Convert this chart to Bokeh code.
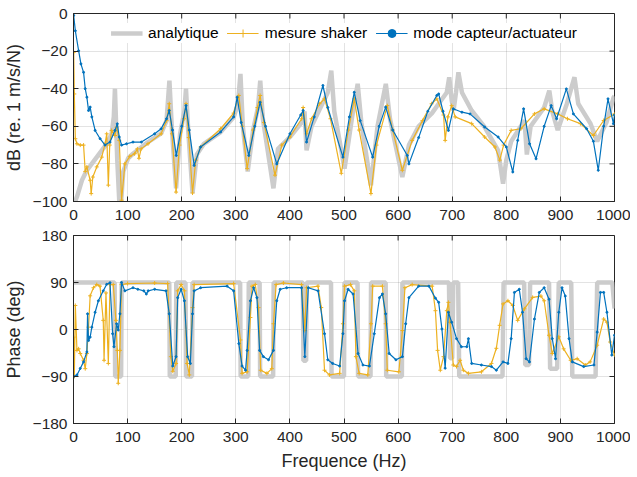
import math
from bokeh.plotting import figure
from bokeh.layouts import column
from bokeh.models import Legend, LegendItem, FixedTicker, Range1d
from bokeh.embed import file_html
from bokeh.resources import INLINE

# ---------------- data ----------------
x_ticks = [0, 100, 200, 300, 400, 500, 600, 700, 800, 900, 1000]
db_ticks = [-100, -80, -60, -40, -20, 0]
ph_ticks = [-180, -90, 0, 90, 180]

series_names = ["analytique", "mesure shaker", "mode capteur/actuateur"]

# magnitude, analytic model
ana_f = [3, 6.4, 15.6, 24.7, 43, 61.4, 70.5, 74.5, 76.6, 80.9, 84.6, 88, 92, 101, 110, 137.7, 162, 172,
         177.3, 182, 189.6, 197, 205, 207.9, 212, 220, 228, 241, 272, 296, 304, 308.6, 313, 322, 332, 341,
         345.2, 350, 369.6, 378, 400, 424.5, 427, 430.8, 440, 455, 470, 476.5, 482, 501, 515, 525.3, 532,
         549.8, 562, 577.3, 585, 607.8, 620, 638, 662.7, 675, 690, 694.5, 699, 702.5, 707, 711.5, 718,
         735.9, 760, 784.8, 794, 800, 809, 833.7, 838, 845, 870, 879.5, 885, 895, 912, 926, 933, 955.7,
         968, 985, 998.5, 1000]
ana_db = [-100, -97.5, -88.7, -83.4, -76.4, -69.3, -64, -55, -40, -78, -100, -100, -84, -77, -74.6, -68.4,
          -63.8, -57, -35.7, -62, -93, -64, -52, -40, -62, -95.5, -75, -69.3, -63.1, -55.2, -48, -32.1, -60,
          -84, -62, -50, -35.7, -56, -93, -72, -65.7, -57, -52, -72.8, -60, -51, -42, -30.4, -52, -82.5, -55,
          -37.4, -58, -91.4, -60, -37.4, -56, -87, -70, -60, -53, -48, -42, -33.9, -46, -51.6, -42, -31.3,
          -42, -51.6, -60.4, -72.8, -90.5, -78, -68, -56.9, -75, -60, -50, -41, -52, -62, -48, -33.9, -48,
          -58.6, -68, -58, -44.5, -44]

# magnitude, shaker measurement
shk_f = [0.4, 1.5, 3.4, 6.4, 12.5, 18.6, 21.7, 24.7, 30.8, 32.7, 35.7, 43, 52.2, 58.3, 61.4, 64.4, 67,
         70.5, 76.6, 79.7, 84.6, 88.9, 95, 104, 113, 118, 121, 125, 137.7, 162, 172, 177, 182, 189.6, 196,
         204, 208, 213, 220, 226, 235, 272, 296, 305.6, 312, 321, 332, 340, 345, 352, 372.5, 385, 400,
         421.7, 424.5, 430.8, 440, 455, 464, 475, 495, 508, 519, 528, 549.8, 560, 580, 590, 607.8, 626,
         645, 662, 671.5, 684, 687, 692, 699, 705.5, 736, 760, 779, 788, 795, 809, 827, 852, 870, 895,
         913, 937, 961, 980, 1000]
shk_db = [-20.7, -42.8, -66.6, -69.3, -70, -70, -84, -81.6, -88.7, -95.8, -87, -81.6, -76.4, -69.3, -64,
          -91.3, -70, -62.2, -64.9, -60.4, -67.5, -99.3, -80, -76, -74.6, -72, -77, -72, -69.3, -64, -57,
          -48, -64, -95, -70, -56, -48, -66, -95.5, -78, -71, -61.3, -53, -43.6, -60, -82.5, -62, -50,
          -43.6, -58, -86, -70, -65.7, -56, -50, -64, -56, -48, -45.4, -56, -85, -62, -45.4, -62, -95.8,
          -70, -49, -62, -83.4, -67.5, -57, -48, -45.4, -54, -67.5, -55, -49, -55, -58.6, -65.7, -71, -78,
          -70, -62.2, -61.3, -53.4, -50.7, -53.4, -56, -58.6, -64.9, -56.9, -53.4]

# magnitude, sensor/actuator mode
cap_f = [0.3, 3.4, 9.5, 13.7, 18.6, 21.7, 24.7, 27.8, 30.8, 33.9, 40, 49.2, 58.3, 67.5, 76.6, 80.9, 84.6,
         88.9, 98, 110, 125.5, 150, 162, 172, 177, 183, 190, 200, 208, 214, 223, 235, 272, 296, 302.5,
         310, 324, 335, 345, 355, 375.7, 400, 420, 424.5, 430.8, 445, 461, 470, 498, 510, 519, 530, 553,
         565, 577, 590, 617, 620, 638, 655, 671.5, 675, 683, 693, 702, 718, 733, 760, 785, 800, 812, 821,
         832, 843, 855, 870, 883, 893, 911, 924, 948.5, 961, 970, 980, 988, 998, 1000]
cap_db = [-1, -9.2, -19.8, -26.8, -31.3, -40, -44.5, -51.6, -49.8, -55, -62.2, -66.6, -70, -68.4, -62.2,
          -58.7, -65.7, -70, -69.3, -68.4, -68.4, -64, -61.3, -56, -51.6, -62, -75.5, -60, -49, -62, -80.8,
          -71, -63, -55, -44.5, -58, -75.5, -60, -47.2, -60, -80, -64, -54, -51.6, -68.4, -55, -38.3, -50,
          -76.4, -55, -41.9, -57, -76.4, -60, -49.8, -62, -75.5, -80, -66, -52, -43.6, -42.8, -52, -62.2,
          -50.7, -52.5, -53.4, -60.4, -65.7, -71, -84.3, -67.5, -50.7, -69.3, -77.3, -60, -49, -56, -40.1,
          -53.4, -61.3, -68, -83.4, -60, -45.4, -58.6, -54]

# phase, analytic model
ana_ph_f = [0, 76, 77, 88, 89, 177, 178, 189, 190, 207, 208, 219, 220, 308, 309, 323, 324, 344, 345, 369,
            370, 424, 425, 430, 431, 476, 477, 500, 501, 525, 526, 549, 550, 577, 578, 607, 608, 694, 696,
            700, 702, 711, 713, 793, 795, 833, 835, 842, 844, 879, 881, 894, 897, 920, 922, 965, 968, 996,
            1000]
ana_ph = [90, 90, -90, -90, 90, 90, -90, -90, 90, 90, -90, -90, 90, 90, -90, -90, 90, 90, -90, -90,
          90, 90, -60, -60, 90, 90, -90, -90, 90, 90, -90, -90, 90, 90, -90, -90, 90, 90, -55,
          -55, 90, 90, -90, -90, 90, 90, -68, -68, 90, 90, -75, -75, 90, 90, -90, -90, 90, 90,
          40]

# phase, shaker measurement
shk_ph_f = [0.3, 1.5, 3.4, 6.4, 9.5, 12.5, 18.6, 21.7, 24.7, 27.8, 30.8, 36.9, 43, 49, 55, 56.5, 60, 64.4,
            67.5, 73.5, 78.4, 81, 82.7, 85.8, 88.8, 100, 150, 174, 180, 183.5, 189.6, 192.6, 199, 205, 210,
            214, 220, 223, 296, 308.6, 311.6, 321, 327, 330, 336, 342, 346, 357.5, 366.6, 369.6, 374.5, 388,
            421.5, 427.6, 430.8, 452, 458, 464, 473, 492, 498, 501, 512, 519, 522, 528, 544, 550, 553, 571,
            577, 580, 601.5, 608, 612.6, 626, 663, 669, 673, 678, 684, 690, 693, 696, 702, 708, 714.6,
            720.6, 730, 754, 772.5, 781.6, 787.7, 794, 803, 812, 821, 833.5, 848.7, 864, 870, 879, 885,
            897, 906, 919, 931, 946, 955, 968, 980, 986, 992, 1000]
shk_ph = [-14.5, -90, 46, -40, -37, -46, -59, -75, -46, 4.5, 64.5, 80, 86, 83, 17.5, -59, 70, -65,
          86, 86, 17.5, -40, -103, -40, 86, 88, 89, 88, -52, -80, -65, 74, 86, 74, -65,
          -87, 42, 86, 88, -20, -84, -81, 23, 83, 86, 42, -78, -84, -75, 11, 86, 89,
          86, -2, 80, 83, 42, -78, -87, -84, 11, 83, 86, 74, -52, -84, -87, 11, 83, 83,
          11, -78, -81, -2, 80, 86, 83, 36, -40, -78, -52, 36, 52, 14, -68, -71, -59,
          -78, -84, -81, -65, -36, 8, 49, 55, 46, 17.4, 39.6, 61.5, 64, 55, -11, -46,
          -14, -37, -59, -56, -68, -62, -30, 20, 14, -24, -49]

# phase, sensor/actuator mode
cap_ph_f = [0.3, 6.4, 12.5, 18.6, 24.7, 26, 27.8, 30.8, 33.9, 40, 46, 55, 61.4, 67.5, 72.3, 74.8, 79.7,
            82.7, 85.8, 88.8, 95, 110, 119, 130, 134.6, 138, 150, 171, 177, 183.5, 189.6, 192.6, 199, 205,
            211, 216, 220, 223, 235, 284, 296, 305.6, 311.6, 318, 321, 327, 333, 339, 344, 351, 360.5,
            369.6, 375.7, 382, 394, 421.5, 427.6, 434, 452, 464, 470, 479, 492, 498, 501, 507.6, 516.8,
            526, 535, 547, 556, 565.6, 571, 577, 583.5, 596, 608, 614, 620, 638, 657, 669, 675, 681, 687,
            693, 699, 708, 717, 727, 730, 736, 754, 772.5, 781.6, 794, 803, 809, 815, 824, 830, 836.7,
            842.8, 852, 861, 870, 879, 885, 891, 897, 903, 909, 916, 922, 943, 962, 968, 974, 980, 986,
            995, 1000]
cap_ph = [-90, -87, -74.5, -62, -43, 30, -21, -14.5, 4.5, 33, 55, 74, 86.5, 89.6, -8, -33, 11,
          -1, 30, 90, 74, 80, 77, 74, 68, 74, 77, 74, 30, -70, -52, 61, 77, 55,
          -52, -65, 30, 74, 80, 83, 74, -27, -70, -78, -40, 55, 80, 61, -40, -52, -58,
          -40, 55, 77, 80, 80, -52, 80, 74, -8, -58, -65, -70, -8, 55, 77, 68,
          -46, -68, -70, -8, 61, 68, 30, -46, -58, -52, 11, 61, 83, 83, 60, 52, 1, -74,
          33, 14, -17.5, -33, -33, -17.5, -65, -68, -71, -78, -62, -65, -17.5, 71, 77, 33, -56,
          -62, 20, 71, 80, 58, -17.5, -56, 33, 80, 64, -17.5, -62, -71, -68, -5, 71, 71, 33,
          -49, -11]

# ---------------- styling ----------------
GRAY = "#cccccc"
ORANGE = "#EDB120"
BLUE = "#0072BD"
AX = "#262626"
FONT = "Liberation Sans"
TICK_FS = "15.5px"
LABEL_FS = "18px"
TICK_LEN = 5


def style(p, yticks, yrange, ylabel, xlabel=None):
    p.xaxis.ticker = FixedTicker(ticks=x_ticks)
    p.yaxis.ticker = FixedTicker(ticks=yticks)
    p.outline_line_color = AX
    p.outline_line_width = 1
    for ax in p.xaxis + p.yaxis:
        ax.axis_line_color = AX
        ax.major_tick_line_color = AX
        ax.major_tick_in = TICK_LEN
        ax.major_tick_out = 0
        ax.minor_tick_line_color = None
        ax.major_label_text_font = FONT
        ax.major_label_text_font_size = TICK_FS
        ax.major_label_text_color = AX
        ax.axis_label_text_font = FONT
        ax.axis_label_text_font_size = LABEL_FS
        ax.axis_label_text_font_style = "normal"
        ax.axis_label_text_color = AX
    p.yaxis.major_label_standoff = 6
    p.yaxis.axis_label_standoff = 6
    p.xaxis.major_label_standoff = 8
    p.yaxis.axis_label = ylabel
    if xlabel:
        p.xaxis.axis_label = xlabel
        p.xaxis.axis_label_standoff = 6
    # inward ticks on the top and right edges of the box
    p.ray(x=x_ticks, y=[yrange[1]] * len(x_ticks), length=TICK_LEN, length_units="screen",
          angle=-math.pi / 2, line_color=AX, line_width=1)
    p.ray(x=[1000] * len(yticks), y=yticks, length=TICK_LEN, length_units="screen",
          angle=math.pi, line_color=AX, line_width=1)
    p.xgrid.ticker = FixedTicker(ticks=x_ticks)
    p.ygrid.ticker = FixedTicker(ticks=yticks)
    for g in (p.xgrid, p.ygrid):
        g.grid_line_color = AX
        g.grid_line_alpha = 0.13
    p.background_fill_color = "white"
    p.border_fill_color = "white"


# ---------------- magnitude figure ----------------
db_range = (-100, 0)
p1 = figure(output_backend="svg", toolbar_location=None, frame_width=541, frame_height=188,
            x_range=Range1d(0, 1000), y_range=Range1d(*db_range),
            min_border_left=64, min_border_right=16, min_border_top=13, min_border_bottom=2)
style(p1, db_ticks, db_range, "dB (re. 1 m/s/N)")

g1 = p1.line(ana_f, ana_db, line_color=GRAY, line_width=4.5)
o1 = p1.line(shk_f, shk_db, line_color=ORANGE, line_width=1.2)
o1s = p1.scatter(shk_f, shk_db, marker="cross", size=4, line_color=ORANGE, line_width=1)
b1 = p1.line(cap_f, cap_db, line_color=BLUE, line_width=1.2)
b1s = p1.scatter(cap_f, cap_db, marker="circle", size=2, fill_color=BLUE, line_color=BLUE)

legend = Legend(items=[LegendItem(label=series_names[0], renderers=[g1]),
                       LegendItem(label=series_names[1], renderers=[o1, o1s]),
                       LegendItem(label=series_names[2], renderers=[b1, b1s])],
                orientation="horizontal", location="top_center")
legend.label_text_font = FONT
legend.label_text_font_size = "15.5px"
legend.label_text_color = "black"
legend.glyph_width = 32
legend.label_standoff = 6
legend.spacing = 8
legend.padding = 4
legend.margin = 10
legend.border_line_color = None
legend.background_fill_color = "white"
legend.background_fill_alpha = 1
p1.add_layout(legend)

# ---------------- phase figure ----------------
ph_range = (-180, 180)
p2 = figure(output_backend="svg", toolbar_location=None, frame_width=541, frame_height=188,
            x_range=Range1d(0, 1000), y_range=Range1d(*ph_range),
            min_border_left=64, min_border_right=16, min_border_top=13, min_border_bottom=2)
style(p2, ph_ticks, ph_range, "Phase (deg)", "Frequence (Hz)")

p2.line(ana_ph_f, ana_ph, line_color=GRAY, line_width=4.5)
p2.line(shk_ph_f, shk_ph, line_color=ORANGE, line_width=1.2)
p2.scatter(shk_ph_f, shk_ph, marker="cross", size=4, line_color=ORANGE, line_width=1)
p2.line(cap_ph_f, cap_ph, line_color=BLUE, line_width=1.2)
p2.scatter(cap_ph_f, cap_ph, marker="circle", size=2, fill_color=BLUE, line_color=BLUE)

layout = column(p1, p2, spacing=0)
open("out.html", "w").write(file_html(layout, INLINE))
